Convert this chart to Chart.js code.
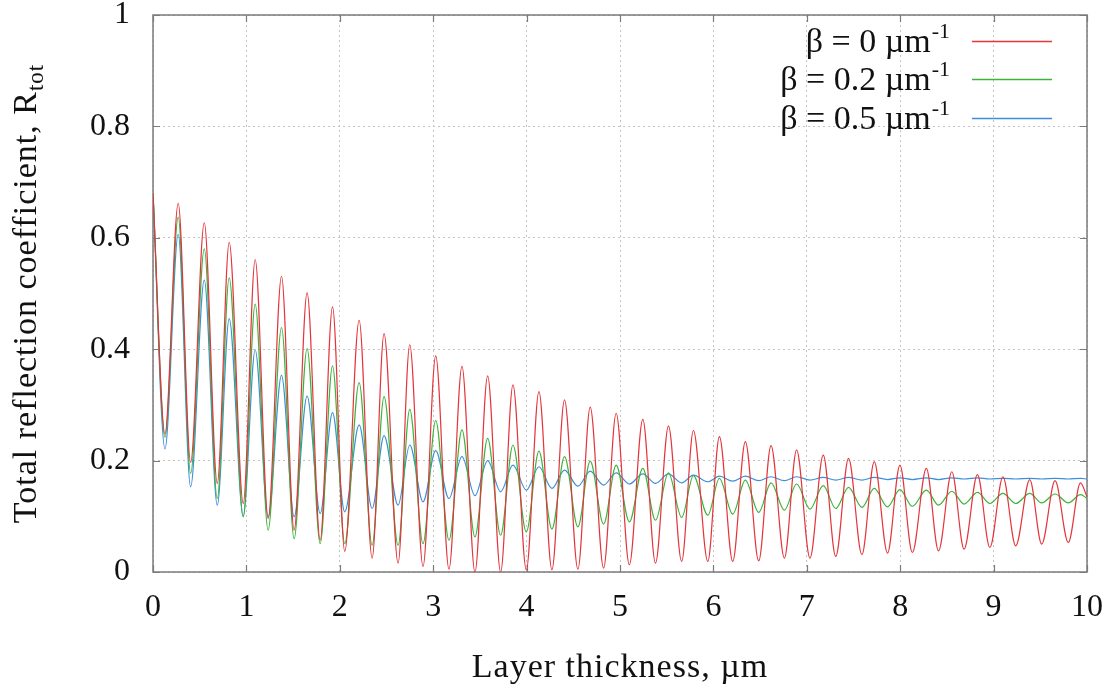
<!DOCTYPE html>
<html>
<head>
<meta charset="utf-8">
<script src="https://cdn.jsdelivr.net/npm/chart.js@4.4.0/dist/chart.umd.min.js"></script>
<style>
html, body { margin: 0; padding: 0; background: #fff; }
</style>
</head>
<body>
<canvas id="reflChart" width="1112" height="690"></canvas>
<script>
// values: positions of maxima / minima (um) and R_tot there
var peakX = [0.27, 0.549, 0.816, 1.094, 1.376, 1.65, 1.922, 2.207, 2.474, 2.749, 3.027, 3.308, 3.583, 3.854,
             4.132, 4.406, 4.681, 4.959, 5.244, 5.519, 5.786, 6.064, 6.342, 6.617, 6.891, 7.176, 7.447, 7.722,
             7.997, 8.28, 8.553, 8.827, 9.10, 9.387, 9.658, 9.93]
var troughX = [0.128, 0.403, 0.688, 0.966, 1.233, 1.511, 1.79, 2.053, 2.346, 2.624, 2.891, 3.169, 3.447, 3.722,
               3.997, 4.271, 4.549, 4.824, 5.10, 5.38, 5.66, 5.94, 6.207, 6.485, 6.76, 7.034, 7.31, 7.59,
               7.864, 8.13, 8.41, 8.684, 8.96, 9.237, 9.515, 9.80]

var redPeak = [0.662, 0.627, 0.592, 0.561, 0.531, 0.501, 0.476, 0.452, 0.428, 0.408, 0.388, 0.369, 0.352, 0.336,
               0.324, 0.309, 0.296, 0.285, 0.274, 0.262, 0.254, 0.243, 0.234, 0.227, 0.219, 0.210, 0.204, 0.198,
               0.192, 0.186, 0.180, 0.175, 0.171, 0.166, 0.164, 0.160]
var redTrough = [0.248, 0.197, 0.159, 0.123, 0.096, 0.075, 0.057, 0.037, 0.025, 0.016, 0.010, 0.005, 0.0, 0.0,
                 0.004, 0.004, 0.005, 0.007, 0.013, 0.016, 0.019, 0.019, 0.019, 0.020, 0.025, 0.025, 0.028, 0.031,
                 0.034, 0.035, 0.038, 0.041, 0.044, 0.047, 0.050, 0.053]

var greenPeak = [0.637, 0.580, 0.528, 0.481, 0.439, 0.401, 0.370, 0.340, 0.315, 0.292, 0.272, 0.255, 0.240, 0.228,
                 0.217, 0.207, 0.199, 0.192, 0.186, 0.178, 0.173, 0.168, 0.165, 0.160, 0.158, 0.155, 0.152, 0.150,
                 0.148, 0.147, 0.145, 0.143, 0.141, 0.141, 0.140, 0.139]
var greenTrough = [0.242, 0.177, 0.132, 0.099, 0.075, 0.060, 0.051, 0.051, 0.048, 0.048, 0.051, 0.057, 0.063, 0.066,
                   0.072, 0.077, 0.081, 0.086, 0.090, 0.093, 0.098, 0.102, 0.104, 0.107, 0.111, 0.113, 0.114, 0.116,
                   0.117, 0.118, 0.120, 0.122, 0.123, 0.123, 0.124, 0.124]

var bluePeak = [0.606, 0.524, 0.455, 0.399, 0.353, 0.316, 0.286, 0.264, 0.245, 0.228, 0.218, 0.207, 0.200, 0.192,
                0.189, 0.183, 0.181, 0.178, 0.176, 0.176, 0.174, 0.172, 0.172, 0.171, 0.171, 0.170, 0.170, 0.170,
                0.169, 0.169, 0.169, 0.169, 0.168, 0.168, 0.168, 0.168]
var blueTrough = [0.221, 0.153, 0.120, 0.100, 0.099, 0.099, 0.105, 0.108, 0.114, 0.120, 0.126, 0.132, 0.137, 0.144,
                  0.147, 0.150, 0.154, 0.156, 0.158, 0.159, 0.160, 0.162, 0.163, 0.164, 0.164, 0.165, 0.165, 0.165,
                  0.166, 0.166, 0.166, 0.167, 0.167, 0.167, 0.167, 0.167]

var startVal = [0.68, 0.68, 0.68]   // red, green, blue at x = 0
var endVal = [0.135, 0.132, 0.167]  // red, green, blue at x = 10

var labels = ['β = 0 µm', 'β = 0.2 µm', 'β = 0.5 µm']
var colors = ['#e3353b', '#3cb43c', '#3d8fd9']

function buildSeries(k, peaks, troughs) {
    var pts = [{x: 0, y: startVal[k]}]
    for (var i = 0; i < peakX.length; i++) {
        pts.push({x: troughX[i], y: troughs[i]})
        pts.push({x: peakX[i], y: peaks[i]})
    }
    pts.push({x: 10, y: endVal[k]})
    return pts
}

var serif = '"Liberation Serif", "DejaVu Serif", serif'

// gnuplot style frame: box, inward ticks on all sides, legend, axis titles
var decor = {
    id: 'decor',
    beforeDatasetsDraw: function(chart) {
        var ctx = chart.ctx, a = chart.chartArea
        var xs = chart.scales.x, ys = chart.scales.y
        ctx.save()
        ctx.strokeStyle = '#7b7b7b'
        ctx.lineWidth = 1.5
        ctx.strokeRect(a.left, a.top, a.right - a.left, a.bottom - a.top)
        ctx.lineWidth = 1.2
        ctx.beginPath()
        xs.ticks.forEach(function(t) {
            var px = Math.round(xs.getPixelForValue(t.value)) + 0.5
            ctx.moveTo(px, a.bottom); ctx.lineTo(px, a.bottom - 7)
            ctx.moveTo(px, a.top); ctx.lineTo(px, a.top + 7)
        })
        ys.ticks.forEach(function(t) {
            var py = Math.round(ys.getPixelForValue(t.value)) + 0.5
            ctx.moveTo(a.left, py); ctx.lineTo(a.left + 7, py)
            ctx.moveTo(a.right, py); ctx.lineTo(a.right - 7, py)
        })
        ctx.stroke()
        ctx.restore()
    },
    afterDraw: function(chart) {
        var ctx = chart.ctx, a = chart.chartArea
        ctx.save()
        ctx.fillStyle = '#111'

        // legend
        var rowY = [41, 79, 118]
        for (var i = 0; i < labels.length; i++) {
            ctx.font = '22px ' + serif
            var supW = ctx.measureText('-1').width
            ctx.textAlign = 'right'
            ctx.textBaseline = 'alphabetic'
            ctx.fillText('-1', 950, rowY[i] - 3)
            ctx.font = '34px ' + serif
            ctx.fillText(labels[i], 950 - supW - 1, rowY[i] + 11)
            ctx.strokeStyle = colors[i]
            ctx.lineWidth = 1.3
            ctx.beginPath()
            ctx.moveTo(972, rowY[i] + 0.5)
            ctx.lineTo(1052, rowY[i] + 0.5)
            ctx.stroke()
        }

        // x title
        ctx.font = '34px ' + serif
        ctx.letterSpacing = '1px'
        ctx.textAlign = 'center'
        ctx.fillText('Layer thickness, µm', (a.left + a.right) / 2, 677)

        // y title with subscript
        var main = 'Total reflection coefficient, R', sub = 'tot'
        ctx.font = '34px ' + serif
        var mw = ctx.measureText(main).width
        ctx.font = '23px ' + serif
        var sw = ctx.measureText(sub).width
        ctx.translate(36, (a.top + a.bottom) / 2)
        ctx.rotate(-Math.PI / 2)
        ctx.textAlign = 'left'
        ctx.font = '34px ' + serif
        ctx.fillText(main, -(mw + sw) / 2, 0)
        ctx.font = '23px ' + serif
        ctx.fillText(sub, -(mw + sw) / 2 + mw, 7)
        ctx.restore()
    }
}

var ctx = document.getElementById('reflChart').getContext('2d')
var chart = new Chart(ctx, {
    type: 'line',
    data: {
        datasets: [
            {label: labels[0], data: buildSeries(0, redPeak, redTrough), borderColor: colors[0]},
            {label: labels[1], data: buildSeries(1, greenPeak, greenTrough), borderColor: colors[1]},
            {label: labels[2], data: buildSeries(2, bluePeak, blueTrough), borderColor: colors[2]}
        ]
    },
    options: {
        responsive: false,
        devicePixelRatio: 1,
        animation: false,
        layout: {padding: {top: 15, right: 25, left: 0, bottom: 0}},
        elements: {
            point: {radius: 0},
            line: {borderWidth: 1.2, cubicInterpolationMode: 'monotone', fill: false}
        },
        plugins: {legend: {display: false}, tooltip: {enabled: false}},
        scales: {
            x: {
                type: 'linear', min: 0, max: 10,
                afterFit: function(s) { s.height = 118; s.paddingLeft = 0; s.paddingRight = 0 },
                ticks: {stepSize: 1, color: '#111', padding: 16, font: {family: serif, size: 32}, maxRotation: 0},
                grid: {color: '#c4c4c4', drawTicks: false},
                border: {display: false, dash: [2, 3]}
            },
            y: {
                min: 0, max: 1,
                afterFit: function(s) { s.width = 153; s.paddingTop = 0; s.paddingBottom = 0 },
                ticks: {
                    stepSize: 0.2, color: '#111', padding: 23, font: {family: serif, size: 32},
                    callback: function(v) { return String(Math.round(v * 10) / 10) }
                },
                grid: {color: '#c4c4c4', drawTicks: false},
                border: {display: false, dash: [2, 3]}
            }
        }
    },
    plugins: [decor]
})
</script>
</body>
</html>
